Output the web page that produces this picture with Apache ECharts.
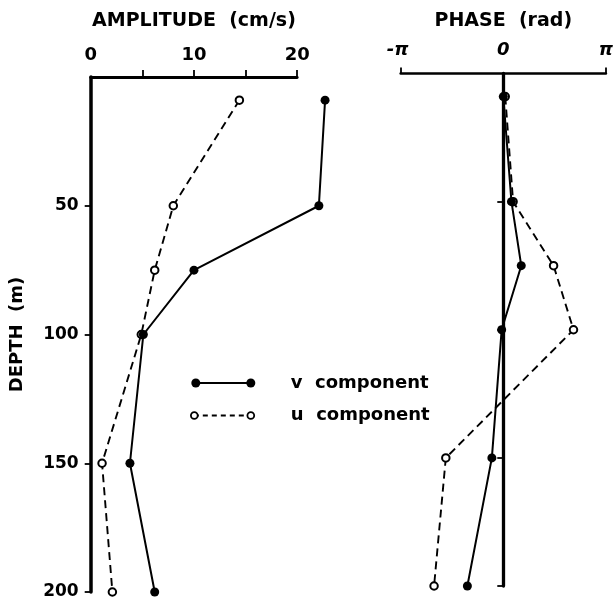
<!DOCTYPE html>
<html>
<head>
<meta charset="utf-8">
<script src="https://cdn.jsdelivr.net/npm/echarts@6/dist/echarts.min.js"></script>
<style>
  html, body { margin: 0; padding: 0; background: #fff; }
  #chart { width: 616px; height: 603px; }
</style>
</head>
<body>
<div id="chart"></div>
<script>
// depth (m) of each measurement
var depth = [9, 50, 75, 100, 150, 200];
// amplitude (cm/s)
var vAmp = [22.7, 22.1, 10.0, 5.1, 3.8, 6.2];
var uAmp = [14.4, 8.0, 6.2, 4.9, 1.1, 2.1];
// phase (rad)
var vPhase = [0.0, 0.25, 0.55, -0.05, -0.35, -1.1];
var uPhase = [0.06, 0.3, 1.54, 2.15, -1.76, -2.12];
var ampTicks = [5, 10, 15, 20];
var depthTicks = [50, 100, 150, 200];

var FONT = 'DejaVu Sans';
var INK = '#000';
// the amplitude axis is drawn to 20 but the v values run past it,
// so the data sit in a wider, axis-less grid on the same scale
var AMP_AXIS_MAX = 20, AMP_DATA_MAX = 24, AMP_PX = 206.5;

function pairs(xs) {
    return xs.map(function (x, i) { return [x, depth[i]]; });
}

var vStyle = {
    type: 'line',
    symbol: 'circle',
    symbolSize: 9,
    lineStyle: { color: INK, width: 2 },
    itemStyle: { color: INK }
};
var uStyle = {
    type: 'line',
    symbol: 'emptyCircle',
    symbolSize: 7.5,
    lineStyle: { color: INK, width: 1.9, type: [8, 5] },
    itemStyle: { color: INK, borderWidth: 1.9 }
};
var labelFont = { fontFamily: FONT, fontSize: 18, fontWeight: 'bold', color: INK };
var hidden = { show: false };

var chart = echarts.init(document.getElementById('chart'));
chart.setOption({
    animation: false,
    backgroundColor: '#fff',
    textStyle: { fontFamily: FONT, color: INK },
    grid: [
        { left: 90.7, top: 77, width: AMP_PX, height: 515 },
        { left: 90.7, top: 77, width: AMP_PX * AMP_DATA_MAX / AMP_AXIS_MAX, height: 515 },
        { left: 400.7, top: 73.5, width: 208.6, height: 512.5 }
    ],
    xAxis: [{
        gridIndex: 0,
        type: 'value',
        position: 'top',
        min: 0,
        max: AMP_AXIS_MAX,
        interval: 5,
        name: 'AMPLITUDE  (cm/s)',
        nameLocation: 'middle',
        nameGap: 46,
        nameTextStyle: Object.assign({}, labelFont, { fontSize: 19 }),
        axisLine: { lineStyle: { color: INK, width: 2.8 } },
        axisTick: { length: 7, lineStyle: { color: INK, width: 1.8 }, customValues: ampTicks },
        axisLabel: Object.assign({
            margin: 13,
            formatter: function (v) { return v % 10 === 0 ? String(v) : ''; }
        }, labelFont),
        splitLine: hidden
    }, {
        gridIndex: 1,
        type: 'value',
        min: 0,
        max: AMP_DATA_MAX,
        show: false
    }, {
        gridIndex: 2,
        type: 'value',
        position: 'top',
        min: -Math.PI,
        max: Math.PI,
        interval: Math.PI,
        name: 'PHASE  (rad)',
        nameLocation: 'middle',
        nameGap: 43,
        nameTextStyle: Object.assign({}, labelFont, { fontSize: 19 }),
        axisLine: { lineStyle: { color: INK, width: 2.6 } },
        axisTick: { length: 6, lineStyle: { color: INK, width: 1.8 }, customValues: [-Math.PI, Math.PI] },
        axisLabel: Object.assign({
            margin: 14,
            fontStyle: 'italic',
            formatter: function (v) { return v < -1 ? '-π ' : (v > 1 ? 'π' : '0'); }
        }, labelFont),
        splitLine: hidden
    }],
    yAxis: [{
        gridIndex: 0,
        type: 'value',
        inverse: true,
        min: 0,
        max: 200,
        interval: 50,
        name: 'DEPTH  (m)',
        nameLocation: 'middle',
        nameRotate: 90,
        nameGap: 64,
        nameTextStyle: labelFont,
        axisLine: { lineStyle: { color: INK, width: 3.5 } },
        axisTick: { length: 6, lineStyle: { color: INK, width: 1.8 }, customValues: depthTicks },
        axisLabel: Object.assign({
            margin: 12,
            formatter: function (v) { return v === 0 ? '' : String(v); }
        }, labelFont, { fontSize: 17 }),
        splitLine: hidden
    }, {
        gridIndex: 1,
        type: 'value',
        inverse: true,
        min: 0,
        max: 200,
        show: false
    }, {
        gridIndex: 2,
        type: 'value',
        inverse: true,
        min: 0,
        max: 200,
        interval: 50,
        axisLine: { onZero: true, lineStyle: { color: INK, width: 3.3 } },
        axisTick: { length: 6, lineStyle: { color: INK, width: 1.8 }, customValues: depthTicks },
        axisLabel: hidden,
        splitLine: hidden
    }],
    series: [
        Object.assign({ name: 'u amplitude', xAxisIndex: 1, yAxisIndex: 1, data: pairs(uAmp) }, uStyle),
        Object.assign({ name: 'v amplitude', xAxisIndex: 1, yAxisIndex: 1, data: pairs(vAmp) }, vStyle),
        Object.assign({ name: 'u phase', xAxisIndex: 2, yAxisIndex: 2, data: pairs(uPhase) }, uStyle),
        Object.assign({ name: 'v phase', xAxisIndex: 2, yAxisIndex: 2, data: pairs(vPhase) }, vStyle)
    ],
    // hand-drawn key, as in the original figure
    graphic: [{
        type: 'group',
        left: 190,
        top: 374,
        children: [
            { type: 'line', shape: { x1: 5, y1: 6, x2: 60, y2: 6 }, style: { stroke: INK, lineWidth: 2 } },
            { type: 'circle', shape: { cx: 5, cy: 6, r: 4.5 }, style: { fill: INK } },
            { type: 'circle', shape: { cx: 60, cy: 6, r: 4.5 }, style: { fill: INK } },
            { type: 'text', x: 100, y: 6, style: { text: 'v  component', fill: INK, font: 'bold 18px "DejaVu Sans"', verticalAlign: 'middle' } },
            { type: 'line', shape: { x1: 3, y1: 38.5, x2: 60, y2: 38.5 }, style: { stroke: INK, lineWidth: 1.8, lineDash: [5, 4] } },
            { type: 'circle', shape: { cx: 3.5, cy: 38.5, r: 3.4 }, style: { fill: '#fff', stroke: INK, lineWidth: 1.8 } },
            { type: 'circle', shape: { cx: 60, cy: 38.5, r: 3.4 }, style: { fill: '#fff', stroke: INK, lineWidth: 1.8 } },
            { type: 'text', x: 100, y: 38.5, style: { text: 'u  component', fill: INK, font: 'bold 18px "DejaVu Sans"', verticalAlign: 'middle' } }
        ]
    }]
});
</script>
</body>
</html>
